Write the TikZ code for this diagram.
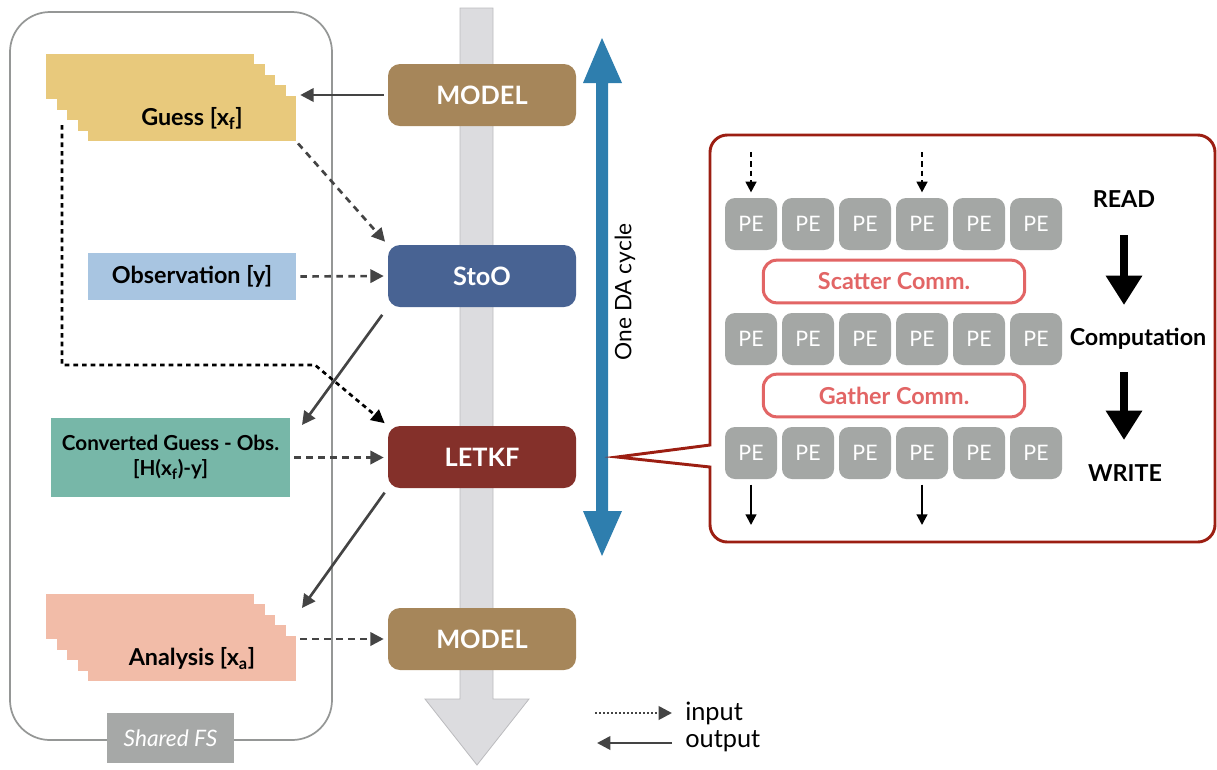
\documentclass[tikz,border=0pt]{standalone}
\usepackage{fontspec}
\setmainfont{Lato}
\usetikzlibrary{arrows.meta,calc}
\definecolor{modelcol}{HTML}{A6865A}
\definecolor{stoocol}{HTML}{486393}
\definecolor{letkfcol}{HTML}{84302A}
\definecolor{guesscol}{HTML}{E8C97C}
\definecolor{obscol}{HTML}{A8C5E1}
\definecolor{convcol}{HTML}{77B7A8}
\definecolor{anacol}{HTML}{F2BCA8}
\definecolor{pecol}{HTML}{A4A7A5}
\definecolor{commcol}{HTML}{E26565}
\definecolor{calloutcol}{HTML}{9C1E12}
\definecolor{cyclecol}{HTML}{2E7EAE}
\definecolor{flowcol}{HTML}{DCDCDF}
\definecolor{arrcol}{HTML}{444444}
\definecolor{fscol}{HTML}{A6A8A7}
\tikzset{
  procbox/.style={rounded corners=9pt,minimum width=141pt,minimum height=46.5pt,inner sep=0pt,
    text=white,font=\fontsize{19}{22}\selectfont\bfseries},
  sheet/.style={minimum width=156pt,minimum height=34pt,inner sep=0pt},
  datatext/.style={font=\fontsize{17.5}{20}\selectfont\bfseries},
  pebox/.style={rounded corners=7.5pt,fill=pecol,minimum size=39pt,inner sep=0pt,
    text=white,font=\fontsize{16}{18}\selectfont},
  commbox/.style={draw=commcol,line width=2.25pt,rounded corners=10pt,fill=white,
    minimum width=196pt,minimum height=32pt,inner sep=0pt,text=commcol,font=\fontsize{17.5}{20}\selectfont\bfseries},
  stepword/.style={inner sep=0pt,font=\fontsize{17.5}{20}\selectfont\bfseries},
  outarr/.style={draw=arrcol,line width=2pt,-{Triangle[length=10pt,width=10pt]}},
  inarr/.style={outarr,dash pattern=on 5pt off 4pt},
  smallarr/.style={draw=black,line width=1.6pt,-{Triangle[length=8pt,width=8pt]}},
  bigarr/.style={draw=black,line width=6pt,-{Triangle[length=22pt,width=26pt]}},
}
\begin{document}
\begin{tikzpicture}[x=0.75pt,y=-0.75pt]
\useasboundingbox (0,0) rectangle (1217,769);
% shared file system
\draw[fscol!90!black,line width=1.3pt,rounded corners=30pt] (10,12) rectangle (332,740);
\node[fill=fscol,minimum width=95pt,minimum height=37.5pt,inner sep=0pt,text=white,
  font=\fontsize{17}{20}\selectfont\itshape] (fs) at (170.5,738) {Shared FS};
% time flow
\filldraw[fill=flowcol,draw=flowcol!85!black,line width=0.6pt]
  (460,8) -- (493,8) -- (493,699) -- (529,699) -- (477,765) -- (425,699) -- (460,699) -- cycle;
% data files
\foreach \k in {4,3,2,1}
  \node[sheet,fill=guesscol] at (192-10.5*\k,118.5-10.5*\k) {};
\node[sheet,fill=guesscol,datatext] (guess) at (192,118.5) {Guess [x\textsubscript{f}]};
\node[sheet,fill=obscol,minimum height=35pt,datatext] (obs) at (192,276.5) {Observation [y]};
\node[fill=convcol,minimum width=179pt,minimum height=59pt,inner sep=0pt,align=center,
  font=\fontsize{15.5}{18.5}\selectfont\bfseries] (conv) at (170.5,457.5) {Converted Guess - Obs.\\{}[H(x\textsubscript{f})-y]};
\foreach \k in {4,3,2,1}
  \node[sheet,fill=anacol] at (192-10.5*\k,658.5-10.5*\k) {};
\node[sheet,fill=anacol,datatext] (ana) at (192,658.5) {Analysis [x\textsubscript{a}]};
% processes
\node[procbox,fill=modelcol] (model1) at (482,95) {MODEL};
\node[procbox,fill=stoocol] (stoo) at (482,276) {StoO};
\node[procbox,fill=letkfcol] (letkf) at (482,457) {LETKF};
\node[procbox,fill=modelcol] (model2) at (482,639) {MODEL};
% connectors
\draw[outarr,shorten <=3pt,shorten >=3pt] (model1.west) -- (guess.east |- model1.west);
\draw[inarr,shorten <=2pt,shorten >=3pt] (guess.south east) -- (stoo.north west);
\draw[inarr,shorten <=3pt,shorten >=3pt] (obs.east) -- (stoo.west);
\coordinate (c1) at (302,425);
\draw[outarr,shorten <=7pt] (stoo.south west) -- (c1);
\draw[inarr,shorten <=3pt,shorten >=3pt] (conv.east) -- (conv.east -| letkf.west);
\coordinate (c2) at (302,608);
\draw[outarr,shorten <=4pt] (letkf.south west) -- (c2);
\draw[inarr,shorten <=3pt,shorten >=3pt] (ana.east |- model2.west) -- (model2.west);
\coordinate (g0) at (62,125);
\coordinate (g1) at (315,365);
\draw[inarr,draw=black,dash pattern=on 3.5pt off 3pt,shorten >=3pt] (g0) |- (g1) -- (letkf.north west);
% one DA cycle
\fill[cyclecol] (596,83) -- (583,83) -- (602,38) -- (622,83) -- (608,83) -- (608,511)
  -- (622,511) -- (602,556) -- (583,511) -- (596,511) -- cycle;
\node[rotate=90,inner sep=0pt,font=\fontsize{17}{20}\selectfont] (cycle) at (625,292) {One DA cycle};
% LETKF detail
\draw[calloutcol,line width=2.2pt,fill=white] (617,457) -- (710,445) [rounded corners=13pt]
  -- (710,135) -- (1215,135) -- (1215,542) -- (710,542) [sharp corners] -- (710,467) -- cycle;
\foreach \r/\y in {1/224,2/339,3/453}
  \foreach \c in {1,...,6}
    \node[pebox] (pe\r\c) at ({751+57*(\c-1)},\y) {PE};
\node[commbox] (scatter) at (894,281.5) {Scatter Comm.};
\node[commbox] (gather) at (894,395.5) {Gather Comm.};
\node[stepword] (read) at (1124,199) {READ};
\node[stepword] (comp) at (1138,339) {Computation};
\node[stepword] (write) at (1125,473) {WRITE};
\coordinate (b1) at (1124,235);
\coordinate (b2) at (1124,305);
\coordinate (b3) at (1124,372);
\coordinate (b4) at (1124,440);
\draw[bigarr] (b1) -- (b2);
\draw[bigarr] (b3) -- (b4);
\coordinate (r1) at (751,152);
\coordinate (r4) at (922,152);
\coordinate (w1) at (751,525);
\coordinate (w4) at (922,525);
\draw[smallarr,dash pattern=on 4pt off 3pt,shorten >=4pt] (r1) -- (pe11.north);
\draw[smallarr,dash pattern=on 4pt off 3pt,shorten >=4pt] (r4) -- (pe14.north);
\draw[smallarr,shorten <=4pt] (pe31.south) -- (w1);
\draw[smallarr,shorten <=4pt] (pe34.south) -- (w4);
% legend
\coordinate (l1) at (595,713);
\coordinate (l2) at (672,713);
\coordinate (l3) at (672,743);
\coordinate (l4) at (597,743);
\draw[inarr,dash pattern=on 1.5pt off 1.5pt] (l1) -- (l2);
\draw[outarr] (l3) -- (l4);
\node[anchor=west,inner sep=0pt,font=\fontsize{19}{22}\selectfont] (inlab) at (685,713) {input};
\node[anchor=west,inner sep=0pt,font=\fontsize{19}{22}\selectfont] (outlab) at (685,741) {output};
\end{tikzpicture}
\end{document}
